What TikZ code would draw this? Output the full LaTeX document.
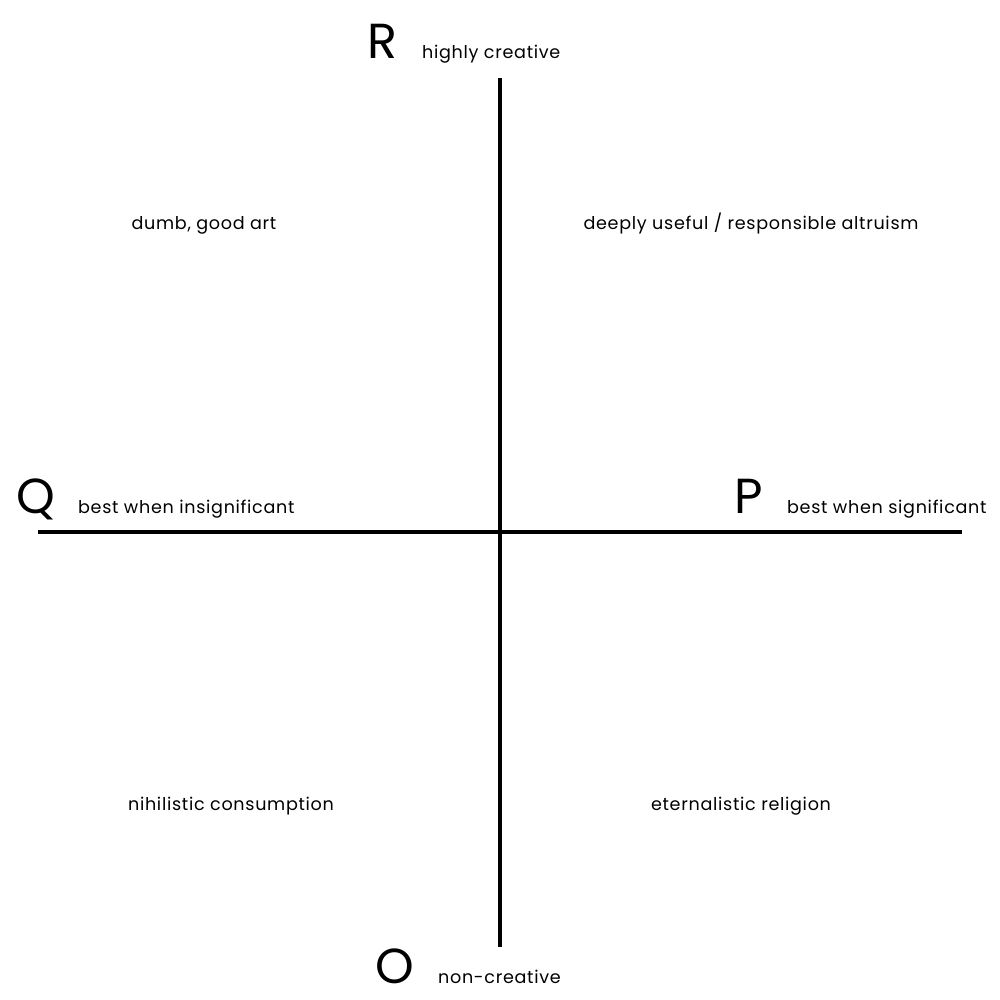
\documentclass[tikz,border=0pt]{standalone}
\usepackage{fontspec}
\setmainfont{Poppins}
\usetikzlibrary{positioning}
\newfontfamily\quadsmall[LetterSpace=4]{Poppins}
\tikzset{
  axis/.style={line width=4.3pt},
  pole/.style={font=\fontsize{70}{70}\selectfont, inner sep=0pt},
  polelabel/.style={font=\quadsmall\fontsize{25}{25}\selectfont, inner sep=0pt, anchor=base west},
  quadlabel/.style={font=\quadsmall\fontsize{25}{25}\selectfont, inner sep=0pt, anchor=base}
}
\begin{document}
\begin{tikzpicture}[x=0.5mm,y=-0.5mm]
  \useasboundingbox (0,0) rectangle (1000,1000);
  % axes
  \coordinate (top) at (500,78);
  \coordinate (bottom) at (500,947);
  \coordinate (left) at (38,532);
  \coordinate (right) at (962,532);
  \draw[axis] (top) -- (bottom);
  \draw[axis] (left) -- (right);
  % poles
  \node[pole,anchor=base] (R) at (382,58) {R};
  \node[polelabel] (Rlab) at ([xshift=20mm]R.base) {highly creative};
  \node[pole,anchor=base] (Q) at (36,513) {Q};
  \node[polelabel] (Qlab) at ([xshift=21mm]Q.base) {best when insignificant};
  \node[pole,anchor=base] (P) at (749,513) {P};
  \node[polelabel] (Plab) at ([xshift=19mm]P.base) {best when significant};
  \node[pole,anchor=base] (O) at (395,983) {O};
  \node[polelabel] (Olab) at ([xshift=21.5mm]O.base) {non-creative};
  % quadrants
  \node[quadlabel] (q1) at (204,229) {dumb, good art};
  \node[quadlabel] (q2) at (751,229) {deeply useful / responsible altruism};
  \node[quadlabel] (q3) at (231,810) {nihilistic consumption};
  \node[quadlabel] (q4) at (741,810) {eternalistic religion};
\end{tikzpicture}
\end{document}
